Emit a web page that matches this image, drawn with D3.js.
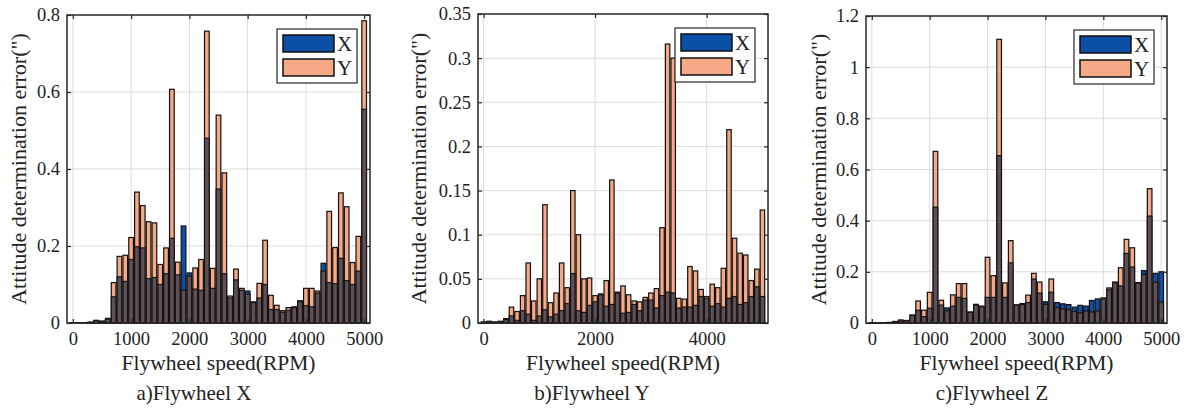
<!DOCTYPE html>
<html>
<head>
<meta charset="utf-8">
<script src="https://cdn.jsdelivr.net/npm/d3@7"></script>
<style>
  body { margin: 0; background: #fff; }
  text { font-family: "Liberation Serif", "Times New Roman", serif; fill: #222; }
</style>
</head>
<body>
<script>
// flywheel speed categories (RPM)
var speeds = [0, 100, 200, 300, 400, 500, 600, 700, 800, 900,
  1000, 1100, 1200, 1300, 1400, 1500, 1600, 1700, 1800, 1900,
  2000, 2100, 2200, 2300, 2400, 2500, 2600, 2700, 2800, 2900,
  3000, 3100, 3200, 3300, 3400, 3500, 3600, 3700, 3800, 3900,
  4000, 4100, 4200, 4300, 4400, 4500, 4600, 4700, 4800, 4900, 5000];

// a) flywheel X
var xErrA = [0, 0, 0, 0.002, 0.006, 0.004, 0.01, 0.068, 0.12, 0.108, 0.165, 0.198, 0.195, 0.115, 0.118, 0.10, 0.128, 0.22, 0.125, 0.252,
  0.13, 0.088, 0.085, 0.48, 0.09, 0.348, 0.128, 0.065, 0.112, 0.085, 0.083, 0.053, 0.065, 0.10, 0.035, 0.035, 0.028, 0.033, 0.04, 0.055,
  0.045, 0.042, 0.078, 0.155, 0.105, 0.102, 0.168, 0.11, 0.10, 0.135, 0.555];
var yErrA = [0.001, 0.001, 0.001, 0.002, 0.007, 0.005, 0.012, 0.105, 0.173, 0.176, 0.222, 0.34, 0.305, 0.263, 0.26, 0.152, 0.195, 0.607, 0.158, 0.085,
  0.122, 0.143, 0.165, 0.758, 0.142, 0.54, 0.39, 0.07, 0.14, 0.09, 0.075, 0.055, 0.103, 0.215, 0.072, 0.046, 0.032, 0.04, 0.042, 0.058,
  0.09, 0.09, 0.083, 0.135, 0.29, 0.196, 0.338, 0.302, 0.157, 0.225, 0.785];

// b) flywheel Y
var xErrB = [0.001, 0.001, 0.001, 0.001, 0.004, 0.008, 0.003, 0.014, 0.010, 0.003, 0.008, 0.015, 0.007, 0.010, 0.014, 0.022, 0.056, 0.014, 0.012, 0.020,
  0.024, 0.032, 0.019, 0.021, 0.034, 0.011, 0.012, 0.021, 0.014, 0.026, 0.026, 0.017, 0.031, 0.035, 0.034, 0.017, 0.018, 0.018, 0.020, 0.030,
  0.028, 0.019, 0.022, 0.018, 0.028, 0.030, 0.021, 0.023, 0.030, 0.041, 0.030];
var yErrB = [0.001, 0.002, 0.001, 0.002, 0.005, 0.018, 0.013, 0.031, 0.068, 0.025, 0.050, 0.134, 0.023, 0.034, 0.068, 0.040, 0.150, 0.100, 0.050, 0.051,
  0.031, 0.033, 0.048, 0.162, 0.035, 0.042, 0.032, 0.025, 0.024, 0.029, 0.034, 0.039, 0.108, 0.316, 0.300, 0.028, 0.027, 0.064, 0.059, 0.038,
  0.030, 0.044, 0.040, 0.062, 0.219, 0.096, 0.079, 0.077, 0.048, 0.061, 0.128];

// c) flywheel Z
var xErrC = [0.001, 0.001, 0.001, 0.002, 0.005, 0.008, 0.009, 0.030, 0.050, 0.025, 0.058, 0.453, 0.070, 0.059, 0.066, 0.100, 0.096, 0.042, 0.070, 0.064,
  0.100, 0.100, 0.654, 0.100, 0.235, 0.070, 0.072, 0.080, 0.172, 0.117, 0.083, 0.120, 0.080, 0.075, 0.072, 0.062, 0.069, 0.066, 0.088, 0.094,
  0.094, 0.130, 0.158, 0.145, 0.272, 0.219, 0.156, 0.205, 0.418, 0.194, 0.200];
var yErrC = [0.001, 0.001, 0.001, 0.002, 0.006, 0.012, 0.010, 0.031, 0.086, 0.050, 0.120, 0.671, 0.089, 0.048, 0.110, 0.154, 0.154, 0.043, 0.073, 0.066,
  0.257, 0.185, 1.109, 0.157, 0.322, 0.071, 0.076, 0.109, 0.194, 0.160, 0.073, 0.172, 0.060, 0.055, 0.052, 0.045, 0.040, 0.047, 0.043, 0.047,
  0.098, 0.137, 0.160, 0.216, 0.327, 0.294, 0.158, 0.190, 0.525, 0.160, 0.082];

var yTicksA = [0, 0.2, 0.4, 0.6, 0.8];
var yTicksB = [0, 0.05, 0.1, 0.15, 0.2, 0.25, 0.3, 0.35];
var yTicksC = [0, 0.2, 0.4, 0.6, 0.8, 1, 1.2];
var xTicksAC = [0, 1000, 2000, 3000, 4000, 5000];
var xTicksB = [0, 2000, 4000];
var captions = ["a)Flywheel X", "b)Flywheel Y", "c)Flywheel Z"];
var seriesNames = ["X", "Y"];

var blue = "#0b4fa6", salmon = "#f6a987", overlap = "#5d5159";

var svg = d3.select("body").append("svg")
    .attr("width", 1189)
    .attr("height", 418);
svg.append("rect").attr("width", 1189).attr("height", 418).attr("fill", "#fff");

var panels = [
  { xs: xErrA, ys: yErrA, yTicks: yTicksA, xTicks: xTicksAC, cap: captions[0],
    left: 67, right: 370, top: 15, bottom: 323, ylab: 26, capX: 194 },
  { xs: xErrB, ys: yErrB, yTicks: yTicksB, xTicks: xTicksB, cap: captions[1],
    left: 478, right: 768, top: 14, bottom: 323, ylab: 426, capX: 592 },
  { xs: xErrC, ys: yErrC, yTicks: yTicksC, xTicks: xTicksAC, cap: captions[2],
    left: 866, right: 1167, top: 16, bottom: 323, ylab: 826, capX: 992 }
];

panels.forEach(function(p) {
  var w = p.right - p.left, h = p.bottom - p.top;
  var g = svg.append("g").attr("transform", "translate(" + p.left + "," + p.top + ")");

  var x = d3.scaleLinear().domain([-100, 5100]).range([0, w]);
  var y = d3.scaleLinear().domain([0, d3.max(p.yTicks)]).range([h, 0]);
  var bw = (x(100) - x(0)) * 0.8;

  // grid
  g.append("g").selectAll("line").data(p.xTicks).enter().append("line")
    .attr("x1", d => x(d)).attr("x2", d => x(d)).attr("y1", 0).attr("y2", h)
    .attr("stroke", "#dcdcdc").attr("stroke-width", 1);
  g.append("g").selectAll("line").data(p.yTicks.slice(1, -1)).enter().append("line")
    .attr("x1", 0).attr("x2", w).attr("y1", d => y(d)).attr("y2", d => y(d))
    .attr("stroke", "#dcdcdc").attr("stroke-width", 1);

  // bars: taller one in its own colour, shared part dark
  var rows = speeds.map((s, i) => ({ s: s, a: p.xs[i], b: p.ys[i] }));
  g.append("g").selectAll("rect").data(rows).enter().append("rect")
    .attr("x", d => x(d.s) - bw / 2)
    .attr("width", bw)
    .attr("y", d => y(Math.max(d.a, d.b)))
    .attr("height", d => h - y(Math.max(d.a, d.b)))
    .attr("fill", d => d.a > d.b ? blue : salmon)
    .attr("stroke", "#111").attr("stroke-width", 1.2);
  g.append("g").selectAll("rect").data(rows).enter().append("rect")
    .attr("x", d => x(d.s) - bw / 2)
    .attr("width", bw)
    .attr("y", d => y(Math.min(d.a, d.b)))
    .attr("height", d => h - y(Math.min(d.a, d.b)))
    .attr("fill", overlap)
    .attr("stroke", "#1a1210").attr("stroke-width", 1.2);

  // axes
  var yAx = g.append("g").call(d3.axisLeft(y).tickValues(p.yTicks).tickSize(-4).tickPadding(7).tickFormat(d => String(d)));
  var yAxR = g.append("g").attr("transform", "translate(" + w + ",0)")
    .call(d3.axisRight(y).tickValues(p.yTicks).tickSize(-4).tickFormat(""));
  var xAx = g.append("g").attr("transform", "translate(0," + h + ")")
    .call(d3.axisBottom(x).tickValues(p.xTicks).tickSize(-4).tickPadding(6).tickFormat(d => String(d)));
  var xAxT = g.append("g")
    .call(d3.axisTop(x).tickValues(p.xTicks).tickSize(-4).tickFormat(""));
  [yAx, yAxR, xAx, xAxT].forEach(function(a) {
    a.select(".domain").remove();
    a.selectAll("line").attr("stroke", "#262626").attr("stroke-width", 1.2);
    a.selectAll("text").style("font-size", "18.5px").attr("fill", "#222")
      .style("font-family", "'Liberation Serif', 'Times New Roman', serif");
  });
  xAx.selectAll("text").attr("dy", "0.86em");

  g.append("rect").attr("width", w).attr("height", h)
    .attr("fill", "none").attr("stroke", "#262626").attr("stroke-width", 1.5);

  // legend
  var lg = g.append("g").attr("transform", "translate(" + (w - 93) + ",14)");
  lg.append("rect").attr("width", 80).attr("height", 54)
    .attr("fill", "#fff").attr("stroke", "#262626").attr("stroke-width", 1.2);
  seriesNames.forEach(function(n, i) {
    lg.append("rect").attr("x", 6).attr("y", 6 + i * 24).attr("width", 51).attr("height", 17)
      .attr("fill", i === 0 ? blue : salmon).attr("stroke", "#111").attr("stroke-width", 1.5);
    lg.append("text").attr("x", 60).attr("y", 15 + i * 24).attr("dy", "0.35em")
      .style("font-size", "21px").text(n);
  });

  // labels
  svg.append("text")
    .attr("transform", "translate(" + p.ylab + "," + (p.top + h / 2) + ") rotate(-90)")
    .attr("text-anchor", "middle")
    .style("font-size", "22px")
    .text("Attitude determination error(\")");
  svg.append("text")
    .attr("x", p.left + w / 2).attr("y", 370)
    .attr("text-anchor", "middle")
    .style("font-size", "21.5px")
    .text("Flywheel speed(RPM)");
  svg.append("text")
    .attr("x", p.capX).attr("y", 400)
    .attr("text-anchor", "middle")
    .style("font-size", "21px")
    .text(p.cap);
});
</script>
</body>
</html>
